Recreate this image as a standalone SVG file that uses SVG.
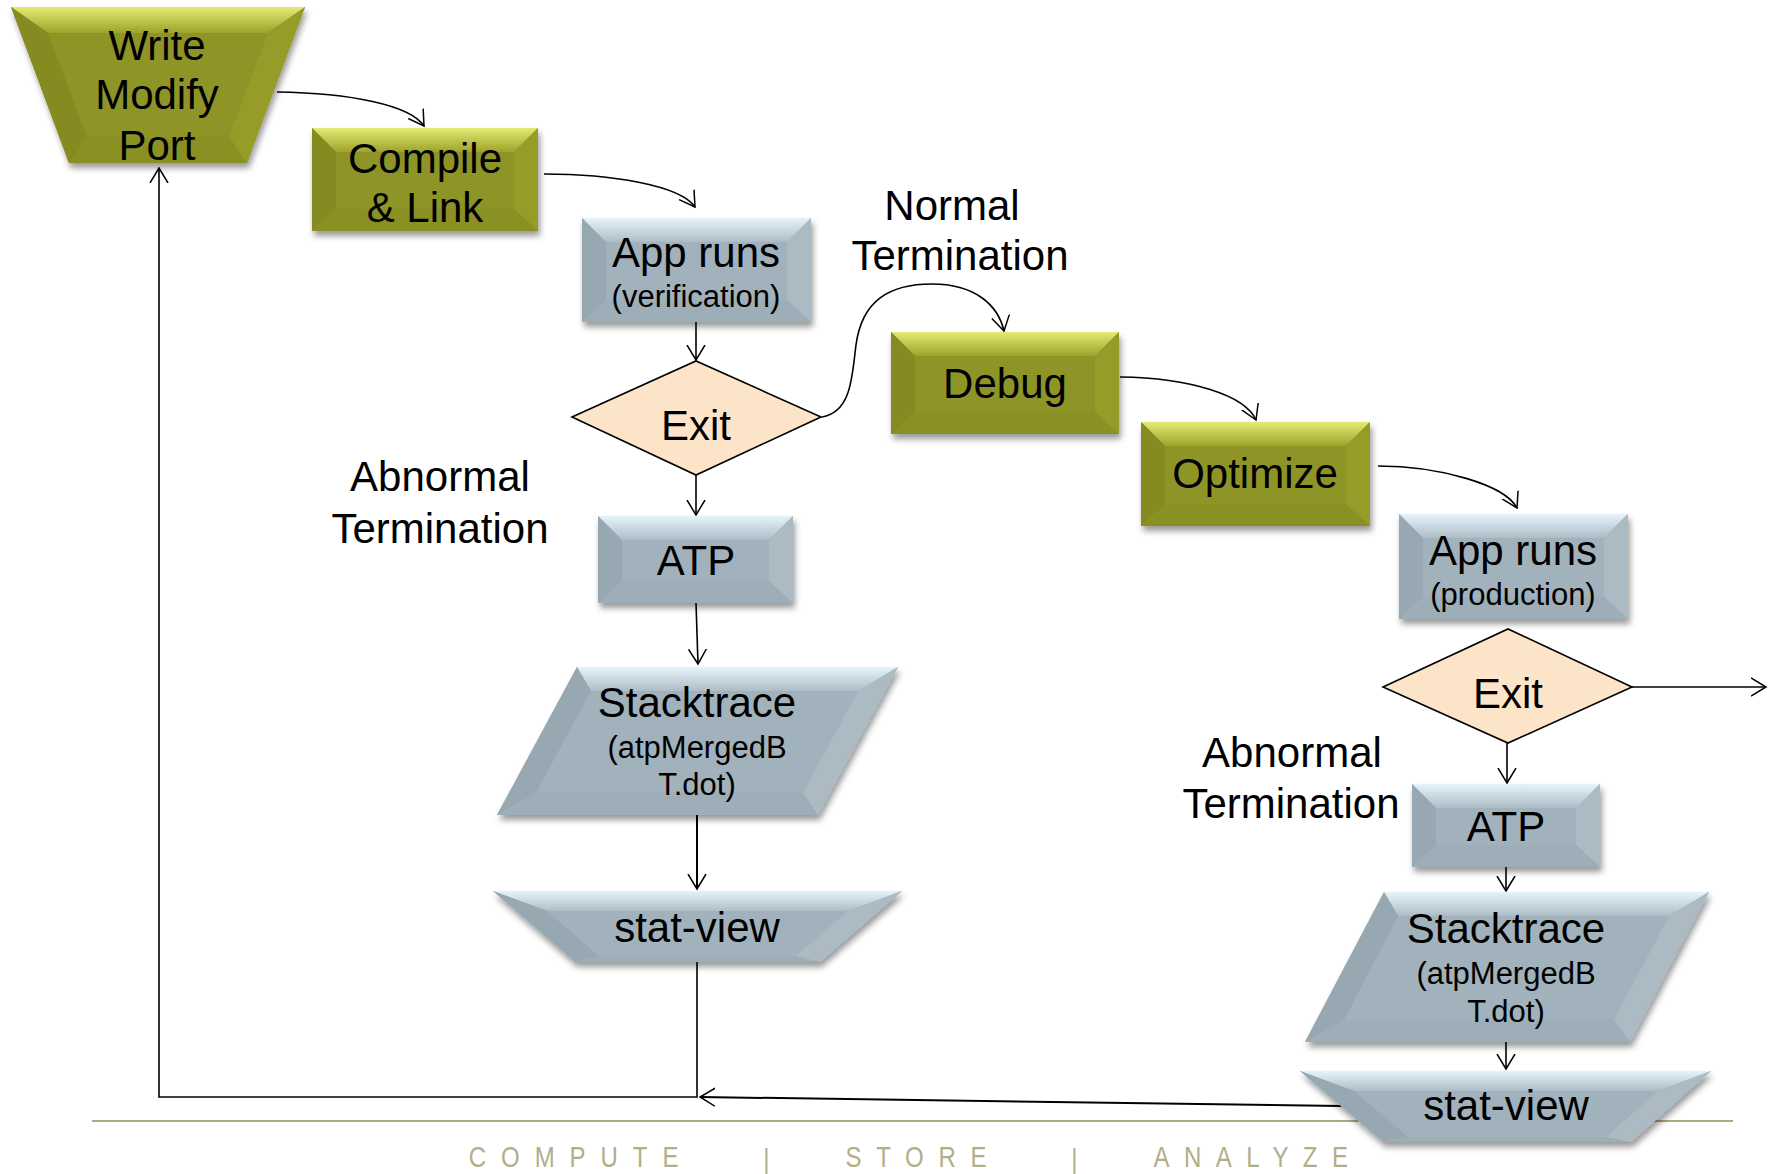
<svg xmlns="http://www.w3.org/2000/svg" width="1777" height="1174" viewBox="0 0 1777 1174">
<defs>
<style>
.ob{fill:#8f9425}
.ot{fill:url(#gOT)}
.ol{fill:#858a21}
.or{fill:#979c29}
.obt{fill:#8b9023}
.bb{fill:#a2b2bc}
.bt{fill:url(#gBT)}
.bl{fill:#98a8b2}
.br{fill:#abbac3}
.bbt{fill:#9eaeb8}
.dia{fill:#fce4c9;stroke:#000;stroke-width:1.6}
.t{font-family:"Liberation Sans",Arial,sans-serif;font-size:42px;fill:#000;text-anchor:middle}
.s{font-size:31px}
.c{fill:none;stroke:#000;stroke-width:1.6}
.a{marker-end:url(#ah)}
.foot{font-family:"Liberation Sans",Arial,sans-serif;font-size:30px;fill:#b1ae88}
</style>
<linearGradient id="gOT" x1="0" y1="0" x2="0" y2="1">
<stop offset="0" stop-color="#e4ea72"/>
<stop offset="1" stop-color="#9ea32a"/>
</linearGradient>
<linearGradient id="gBT" x1="0" y1="0" x2="0" y2="1">
<stop offset="0" stop-color="#e6f3fa"/>
<stop offset="1" stop-color="#adbdc7"/>
</linearGradient>
<filter id="sh" x="-10%" y="-10%" width="120%" height="130%">
<feGaussianBlur in="SourceAlpha" stdDeviation="3"/>
<feOffset dx="2" dy="5" result="b"/>
<feComponentTransfer><feFuncA type="linear" slope="0.4"/></feComponentTransfer>
<feMerge><feMergeNode/><feMergeNode in="SourceGraphic"/></feMerge>
</filter>
<marker id="ah" markerUnits="userSpaceOnUse" markerWidth="17" markerHeight="20" viewBox="0 0 17 20" refX="15" refY="10" orient="auto">
<path d="M0,1 L15,10 L0,19" fill="none" stroke="#000" stroke-width="1.5"/>
</marker>
</defs>
<rect width="1777" height="1174" fill="#fff"/>

<line x1="92" y1="1121" x2="1733" y2="1121" stroke="#aeab80" stroke-width="2"/>
<g id="footer" class="foot" transform="scale(0.8,1)">
<text x="586" y="1167" textLength="262" lengthAdjust="spacing">COMPUTE</text>
<text x="954" y="1170">|</text>
<text x="1057" y="1167" textLength="176" lengthAdjust="spacing">STORE</text>
<text x="1339" y="1170">|</text>
<text x="1442" y="1167" textLength="243" lengthAdjust="spacing">ANALYZE</text>
</g>

<g id="connectors">
<path class="c a" d="M277,92 C350,93 410,105 424,126"/>
<path class="c a" d="M544,174 C610,174 680,185 695,207"/>
<path class="c a" d="M696,322 L696,360"/>
<path class="c a" d="M822,417 C852,412 852,375 856,345 C862,300 890,284 932,284 C975,284 998,305 1004,331"/>
<path class="c a" d="M1120,377 C1190,378 1245,395 1256,420"/>
<path class="c a" d="M1378,466 C1440,466 1505,485 1517,508"/>
<path class="c a" d="M1632,687 L1766,687"/>
<path class="c a" d="M1507,743 L1507,783"/>
<path class="c a" d="M1506,867 L1506,891"/>
<path class="c a" d="M1506,1042 L1506,1069"/>
<path class="c a" d="M696,475 L696,515"/>
<path class="c a" d="M696,603 L698,664"/>
<path class="c a" d="M697,815 L697,889" style="stroke-width:2"/>
<path class="c a" d="M697,962 L697,1097 L159,1097 L159,168"/>
<path class="c a" d="M1342,1106 L700,1097" style="stroke-width:2"/>
</g>

<g id="write-modify-port">
<polygon class="ob" filter="url(#sh)" points="11,7 305,7 247,163 69,163"/>
<polygon class="ot" points="11,7 305,7 268,33 48,33"/>
<polygon class="ol" points="11,7 48,33 87,137 69,163"/>
<polygon class="or" points="305,7 247,163 229,137 268,33"/>
<polygon class="obt" points="69,163 247,163 229,137 87,137"/>
<text class="t" x="157" y="60">Write</text>
<text class="t" x="157" y="109">Modify</text>
<text class="t" x="157" y="160">Port</text>
</g>

<g id="compile-link">
<polygon class="ob" filter="url(#sh)" points="312,128 538,128 538,231 312,231"/>
<polygon class="ot" points="312,128 538,128 514,152 336,152"/>
<polygon class="ol" points="312,128 336,152 336,209 312,231"/>
<polygon class="or" points="538,128 538,231 514,209 514,152"/>
<polygon class="obt" points="312,231 538,231 514,209 336,209"/>
<text class="t" x="425" y="173">Compile</text>
<text class="t" x="425" y="222">&amp; Link</text>
</g>

<g id="app-runs-verification">
<polygon class="bb" filter="url(#sh)" points="582,218 811,218 811,322 582,322"/>
<polygon class="bt" points="582,218 811,218 787,242 606,242"/>
<polygon class="bl" points="582,218 606,242 606,300 582,322"/>
<polygon class="br" points="811,218 811,322 787,300 787,242"/>
<polygon class="bbt" points="582,322 811,322 787,300 606,300"/>
<text class="t" x="696" y="267">App runs</text>
<text class="t s" x="696" y="307">(verification)</text>
</g>

<g id="exit-verification">
<polygon class="dia" points="572,417 696,361 821,417 696,475"/>
<text class="t" x="696" y="440">Exit</text>
</g>

<g id="normal-termination">
<text class="t" x="952" y="220">Normal</text>
<text class="t" x="960" y="270">Termination</text>
</g>

<g id="debug">
<polygon class="ob" filter="url(#sh)" points="891,332 1119,332 1119,434 891,434"/>
<polygon class="ot" points="891,332 1119,332 1095,356 915,356"/>
<polygon class="ol" points="891,332 915,356 915,412 891,434"/>
<polygon class="or" points="1119,332 1119,434 1095,412 1095,356"/>
<polygon class="obt" points="891,434 1119,434 1095,412 915,412"/>
<text class="t" x="1005" y="398">Debug</text>
</g>

<g id="optimize">
<polygon class="ob" filter="url(#sh)" points="1141,422 1370,422 1370,526 1141,526"/>
<polygon class="ot" points="1141,422 1370,422 1346,446 1165,446"/>
<polygon class="ol" points="1141,422 1165,446 1165,504 1141,526"/>
<polygon class="or" points="1370,422 1370,526 1346,504 1346,446"/>
<polygon class="obt" points="1141,526 1370,526 1346,504 1165,504"/>
<text class="t" x="1255" y="488">Optimize</text>
</g>

<g id="app-runs-production">
<polygon class="bb" filter="url(#sh)" points="1399,514 1628,514 1628,619 1399,619"/>
<polygon class="bt" points="1399,514 1628,514 1604,538 1423,538"/>
<polygon class="bl" points="1399,514 1423,538 1423,597 1399,619"/>
<polygon class="br" points="1628,514 1628,619 1604,597 1604,538"/>
<polygon class="bbt" points="1399,619 1628,619 1604,597 1423,597"/>
<text class="t" x="1513" y="565">App runs</text>
<text class="t s" x="1513" y="605">(production)</text>
</g>

<g id="exit-production">
<polygon class="dia" points="1383,687 1508,629 1632,687 1508,743"/>
<text class="t" x="1508" y="708">Exit</text>
</g>

<g id="abnormal-termination-left">
<text class="t" x="440" y="491">Abnormal</text>
<text class="t" x="440" y="543">Termination</text>
</g>

<g id="atp-left">
<polygon class="bb" filter="url(#sh)" points="598,516 793,516 793,603 598,603"/>
<polygon class="bt" points="598,516 793,516 769,540 622,540"/>
<polygon class="bl" points="598,516 622,540 622,581 598,603"/>
<polygon class="br" points="793,516 793,603 769,581 769,540"/>
<polygon class="bbt" points="598,603 793,603 769,581 622,581"/>
<text class="t" x="696" y="575">ATP</text>
</g>

<g id="stacktrace-left">
<polygon class="bb" filter="url(#sh)" points="577,667 898,667 818,815 497,815"/>
<polygon class="bt" points="577,667 898,667 858,691 591,691"/>
<polygon class="bl" points="577,667 591,691 536,793 497,815"/>
<polygon class="br" points="898,667 818,815 803,793 858,691"/>
<polygon class="bbt" points="497,815 818,815 803,793 536,793"/>
<text class="t" x="697" y="717">Stacktrace</text>
<text class="t s" x="697" y="758">(atpMergedB</text>
<text class="t s" x="697" y="795">T.dot)</text>
</g>

<g id="stat-view-left">
<polygon class="bb" filter="url(#sh)" points="493,891 902,891 820,962 575,962"/>
<polygon class="bt" points="493,891 902,891 848,911 547,911"/>
<polygon class="bl" points="493,891 547,911 599,956 575,962"/>
<polygon class="br" points="902,891 820,962 796,956 848,911"/>
<polygon class="bbt" points="575,962 820,962 796,956 599,956"/>
<text class="t" x="697" y="942">stat-view</text>
</g>

<g id="abnormal-termination-right">
<text class="t" x="1292" y="767">Abnormal</text>
<text class="t" x="1291" y="818">Termination</text>
</g>

<g id="atp-right">
<polygon class="bb" filter="url(#sh)" points="1412,784 1600,784 1600,867 1412,867"/>
<polygon class="bt" points="1412,784 1600,784 1576,808 1436,808"/>
<polygon class="bl" points="1412,784 1436,808 1436,845 1412,867"/>
<polygon class="br" points="1600,784 1600,867 1576,845 1576,808"/>
<polygon class="bbt" points="1412,867 1600,867 1576,845 1436,845"/>
<text class="t" x="1506" y="841">ATP</text>
</g>

<g id="stacktrace-right">
<polygon class="bb" filter="url(#sh)" points="1384,892 1709,892 1630,1042 1305,1042"/>
<polygon class="bt" points="1384,892 1709,892 1669,916 1398,916"/>
<polygon class="bl" points="1384,892 1398,916 1344,1020 1305,1042"/>
<polygon class="br" points="1709,892 1630,1042 1614,1020 1669,916"/>
<polygon class="bbt" points="1305,1042 1630,1042 1614,1020 1344,1020"/>
<text class="t" x="1506" y="943">Stacktrace</text>
<text class="t s" x="1506" y="984">(atpMergedB</text>
<text class="t s" x="1506" y="1022">T.dot)</text>
</g>

<g id="stat-view-right">
<polygon class="bb" filter="url(#sh)" points="1300,1071 1711,1071 1631,1142 1383,1142"/>
<polygon class="bt" points="1300,1071 1711,1071 1658,1091 1354,1091"/>
<polygon class="bl" points="1300,1071 1354,1091 1408,1137 1383,1142"/>
<polygon class="br" points="1711,1071 1631,1142 1606,1137 1658,1091"/>
<polygon class="bbt" points="1383,1142 1631,1142 1606,1137 1408,1137"/>
<text class="t" x="1506" y="1120">stat-view</text>
</g>
</svg>
